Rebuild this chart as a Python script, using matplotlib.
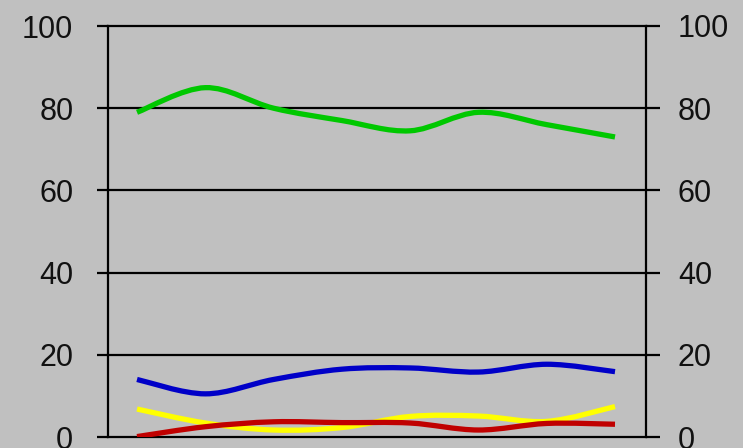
import numpy as np
import matplotlib
matplotlib.use('Agg')
import matplotlib.pyplot as plt
from matplotlib.path import Path
from matplotlib.patches import PathPatch

# values, 8 categories
points = list(range(8))
green = [79, 85, 80, 77, 74.5, 79, 76, 73]
blue = [14, 10.5, 14, 16.5, 16.8, 15.8, 17.7, 15.9]
yellow = [6.8, 3.4, 1.7, 2.3, 5, 5.1, 3.8, 7.4]
red = [0.1, 2.5, 3.7, 3.5, 3.4, 1.7, 3.3, 3.1]
y_ticks = [0, 20, 40, 60, 80, 100]

series = [(yellow, '#FFFF00'), (red, '#C00000'), (blue, '#0000C8'), (green, '#00C800')]

plt.rcParams['font.family'] = ['Liberation Sans', 'DejaVu Sans']

BG = '#C0C0C0'


def smooth_path(xs, ys):
    # Excel-like smoothed line: cubic bezier segments through every point
    xs = np.asarray(xs, float)
    ys = np.asarray(ys, float)
    verts = [(xs[0], ys[0])]
    codes = [Path.MOVETO]
    n = len(xs)
    for i in range(n - 1):
        p0 = (xs[max(i - 1, 0)], ys[max(i - 1, 0)])
        p1 = (xs[i], ys[i])
        p2 = (xs[i + 1], ys[i + 1])
        p3 = (xs[min(i + 2, n - 1)], ys[min(i + 2, n - 1)])
        c1 = (p1[0] + (p2[0] - p0[0]) / 6, p1[1] + (p2[1] - p0[1]) / 6)
        c2 = (p2[0] - (p3[0] - p1[0]) / 6, p2[1] - (p3[1] - p1[1]) / 6)
        verts += [c1, c2, p2]
        codes += [Path.CURVE4] * 3
    return Path(verts, codes)


fig = plt.figure(figsize=(7.43, 4.48), dpi=100, facecolor=BG)
ax = fig.add_axes([108 / 743, 11 / 448, 538 / 743, 411 / 448])
ax.set_facecolor(BG)
ax.set_xlim(-0.425, 7.454)
ax.set_ylim(0, 100)

for y in y_ticks[1:]:
    ax.axhline(y, color='black', lw=1.6, zorder=1, clip_on=False)

for vals, col in series:
    patch = PathPatch(smooth_path(points, vals), facecolor='none', edgecolor=col,
                      lw=3.8, capstyle='butt', joinstyle='round', zorder=3)
    ax.add_patch(patch)

for side in ['left', 'right', 'bottom']:
    ax.spines[side].set_color('black')
    ax.spines[side].set_linewidth(1.6)
ax.spines['top'].set_visible(False)

ax.set_xticks([])
ax.set_yticks(y_ticks)
ax.tick_params(axis='y', direction='out', length=8, width=1.6, pad=17,
               labelsize=22, labelcolor='#111111')

ax2 = ax.twinx()
ax2.set_ylim(0, 100)
ax2.set_yticks(y_ticks)
ax2.tick_params(axis='y', direction='out', length=10, width=1.6, pad=13,
                labelsize=22, labelcolor='#111111')
for side in ['left', 'top', 'bottom', 'right']:
    ax2.spines[side].set_visible(False)

fig.savefig('out.png', dpi=100, facecolor=BG)
